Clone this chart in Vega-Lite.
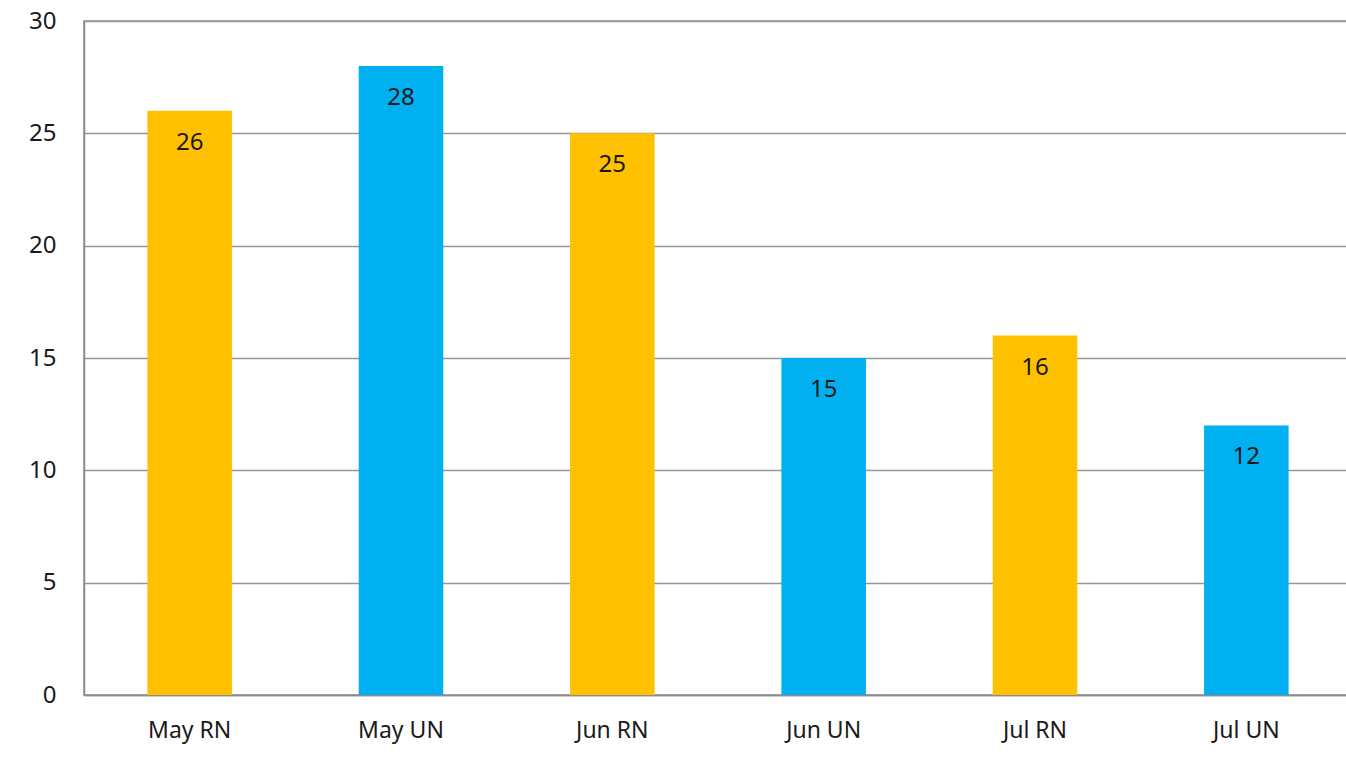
{
  "$schema": "https://vega.github.io/schema/vega-lite/v6.json",
  "autosize": {"type": "none"},
  "padding": {"left": 84, "top": 21, "right": 0, "bottom": 68},
  "width": 1268,
  "height": 674,
  "background": "white",
  "config": {
    "font": "Noto Sans",
    "view": {"stroke": "#8c8c8c", "strokeWidth": 1.5}
  },
  "data": {
    "values": [
      {"label": "May RN", "value": 26, "type": "RN"},
      {"label": "May UN", "value": 28, "type": "UN"},
      {"label": "Jun RN", "value": 25, "type": "RN"},
      {"label": "Jun UN", "value": 15, "type": "UN"},
      {"label": "Jul RN", "value": 16, "type": "RN"},
      {"label": "Jul UN", "value": 12, "type": "UN"}
    ]
  },
  "encoding": {
    "x": {
      "field": "label",
      "type": "nominal",
      "sort": null,
      "scale": {"paddingInner": 0.6, "paddingOuter": 0.3},
      "axis": {
        "title": null,
        "labelAngle": 0,
        "labelFont": "Noto Sans",
        "labelFontSize": 23,
        "labelColor": "#1a1a1a",
        "labelPadding": 24,
        "ticks": false,
        "domainColor": "#8c8c8c",
        "domainWidth": 1.5
      }
    },
    "y": {
      "field": "value",
      "type": "quantitative",
      "scale": {"domain": [0, 30]},
      "axis": {
        "title": null,
        "values": [0, 5, 10, 15, 20, 25, 30],
        "labelFontSize": 24,
        "labelColor": "#1a1a1a",
        "labelPadding": 28,
        "ticks": false,
        "gridColor": "#969696",
        "gridWidth": 1.5,
        "domainColor": "#8c8c8c",
        "domainWidth": 1.5
      }
    }
  },
  "layer": [
    {
      "mark": {"type": "bar"},
      "encoding": {
        "color": {
          "field": "type",
          "type": "nominal",
          "scale": {"domain": ["RN", "UN"], "range": ["#FFC000", "#00B0F0"]},
          "legend": null
        }
      }
    },
    {
      "mark": {"type": "text", "baseline": "middle", "dy": 32, "fontSize": 24, "color": "#1a1a1a"},
      "encoding": {"text": {"field": "value", "type": "quantitative"}}
    }
  ]
}
